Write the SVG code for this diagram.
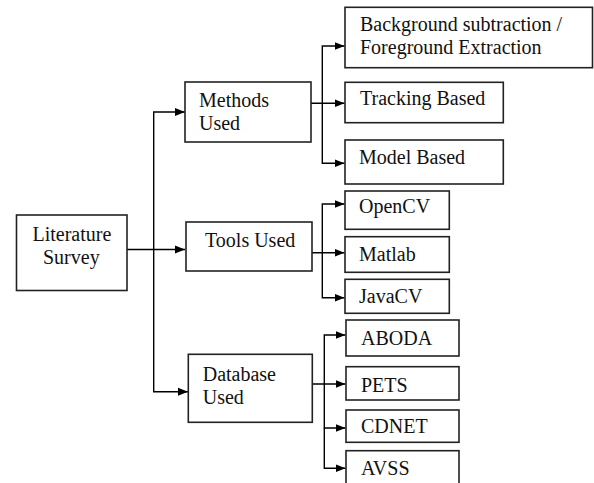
<svg xmlns="http://www.w3.org/2000/svg" width="594" height="483" viewBox="0 0 594 483">
<defs>
<marker id="arr" markerWidth="10" markerHeight="10" refX="10" refY="5" orient="auto" markerUnits="userSpaceOnUse">
<path d="M0,1 L10,5 L0,9 Z" fill="#000"/>
</marker>
<style>
rect{fill:#fff;stroke:#222;stroke-width:1.6}
.t{font-family:'Liberation Serif','DejaVu Serif',serif;font-size:20px;fill:#111}
.c{fill:none;stroke:#000;stroke-width:1.4}
</style>
</defs>
<rect x="0" y="0" width="594" height="483" style="stroke:none"/>
<g id="connectors">
<path class="c" d="M127,249.5 H185" marker-end="url(#arr)"/>
<path class="c" d="M153.7,249.5 V112 H185" marker-end="url(#arr)"/>
<path class="c" d="M153.7,249.5 V391.7 H188" marker-end="url(#arr)"/>
<path class="c" d="M311,103.3 H344.5" marker-end="url(#arr)"/>
<path class="c" d="M322.3,103.3 V46 H344.5" marker-end="url(#arr)"/>
<path class="c" d="M322.3,103.3 V163.3 H344.5" marker-end="url(#arr)"/>
<path class="c" d="M312,252.7 H344.5" marker-end="url(#arr)"/>
<path class="c" d="M322.3,252.7 V204 H344.5" marker-end="url(#arr)"/>
<path class="c" d="M322.3,252.7 V297.7 H344.5" marker-end="url(#arr)"/>
<path class="c" d="M312,384 H345.5" marker-end="url(#arr)"/>
<path class="c" d="M324.3,384 V335 H345.5" marker-end="url(#arr)"/>
<path class="c" d="M324.3,384 V428 H345.5" marker-end="url(#arr)"/>
<path class="c" d="M324.3,428 V468.3 H345.5" marker-end="url(#arr)"/>
</g>
<g class="t" font-family="Liberation Serif, DejaVu Serif, serif" font-size="20">
<g id="literature"><rect x="16.5" y="215" width="110.5" height="75.5"/><text x="32.5" y="240.7">Literature</text><text x="43" y="263.5">Survey</text></g>
<g id="methods"><rect x="185" y="82" width="126" height="60"/><text x="199" y="106.7">Methods</text><text x="199" y="130">Used</text></g>
<g id="tools"><rect x="186" y="222" width="126" height="49"/><text x="205" y="246.7">Tools Used</text></g>
<g id="database"><rect x="188.3" y="354.3" width="124" height="68"/><text x="202.7" y="380.7">Database</text><text x="202.7" y="404">Used</text></g>
<g id="background"><rect x="345" y="7.3" width="247.5" height="60.4"/><text x="360" y="30.7">Background subtraction /</text><text x="360" y="54.3">Foreground Extraction</text></g>
<g id="tracking"><rect x="345" y="82.3" width="158.3" height="40.4"/><text x="360" y="105">Tracking Based</text></g>
<g id="model"><rect x="345" y="140" width="158.3" height="44"/><text x="359" y="164">Model Based</text></g>
<g id="opencv"><rect x="345" y="191" width="104.3" height="38.3"/><text x="359" y="213.3">OpenCV</text></g>
<g id="matlab"><rect x="345" y="236.7" width="104.3" height="35.6"/><text x="359" y="261">Matlab</text></g>
<g id="javacv"><rect x="345" y="279.3" width="104.3" height="34"/><text x="359" y="303.3">JavaCV</text></g>
<g id="aboda"><rect x="346" y="320" width="113" height="36"/><text x="361" y="345">ABODA</text></g>
<g id="pets"><rect x="346" y="366.7" width="113" height="33.3"/><text x="361" y="391.7">PETS</text></g>
<g id="cdnet"><rect x="346" y="410" width="113" height="32.3"/><text x="361" y="432.7">CDNET</text></g>
<g id="avss"><rect x="346" y="450.7" width="113" height="34"/><text x="361" y="475">AVSS</text></g>
</g>
</svg>
